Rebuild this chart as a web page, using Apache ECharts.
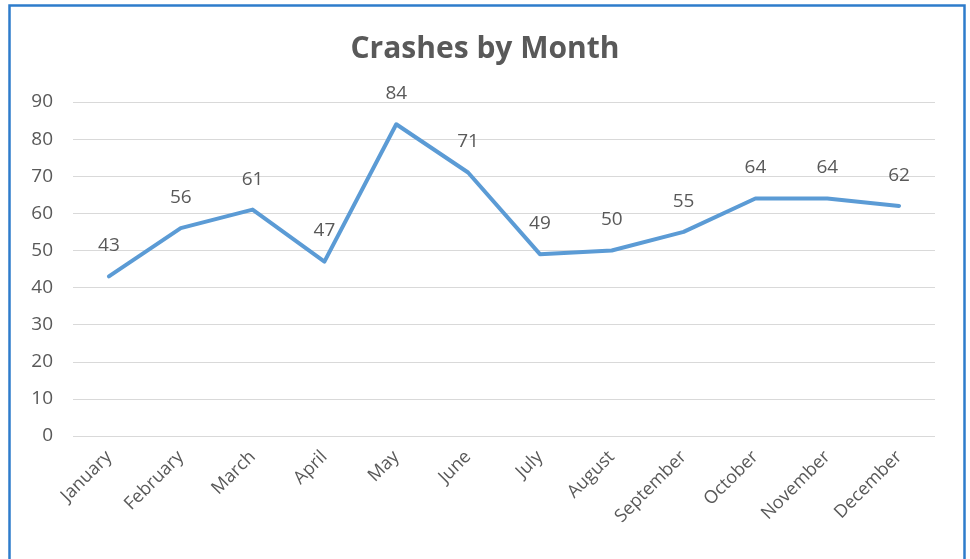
<!DOCTYPE html>
<html>
<head>
<meta charset="utf-8">
<style>
  html, body { margin: 0; padding: 0; background: #ffffff; }
  #chart { width: 970px; height: 559px; }
</style>
<script src="https://cdn.jsdelivr.net/npm/echarts@6/dist/echarts.min.js"></script>
</head>
<body>
<div id="chart"></div>
<script>
const months = ['January','February','March','April','May','June','July','August','September','October','November','December'];
const crashes = [43, 56, 61, 47, 84, 71, 49, 50, 55, 64, 64, 62];
const yTicks = [0, 10, 20, 30, 40, 50, 60, 70, 80, 90];

const chart = echarts.init(document.getElementById('chart'), null, { renderer: 'canvas' });
const textColor = '#595959';
const font = '"Open Sans", "Noto Sans", sans-serif';

chart.setOption({
  animation: false,
  backgroundColor: '#ffffff',
  title: {
    text: 'Crashes by Month',
    left: 'center',
    top: 29,
    textStyle: { color: textColor, fontSize: 30, fontWeight: 'bold', fontFamily: font }
  },
  graphic: [{
    type: 'rect',
    shape: { x: 9.5, y: 5.5, width: 955, height: 600 },
    style: { fill: 'none', stroke: '#2E7CCB', lineWidth: 2.5 },
    silent: true
  }],
  grid: { left: 73, right: 35, top: 102, bottom: 123, containLabel: false },
  xAxis: {
    type: 'category',
    data: months,
    boundaryGap: true,
    axisLine: { show: false },
    axisTick: { show: false },
    axisLabel: { rotate: 45, color: textColor, fontSize: 18, fontFamily: font, margin: 18 }
  },
  yAxis: {
    type: 'value',
    min: yTicks[0],
    max: yTicks[yTicks.length - 1],
    interval: 10,
    axisLine: { show: false },
    axisTick: { show: false },
    splitLine: { lineStyle: { color: '#d9d9d9', width: 1 } },
    axisLabel: { color: textColor, fontSize: 19, fontFamily: font, margin: 20 }
  },
  series: [{
    type: 'line',
    data: crashes,
    symbol: 'circle',
    symbolSize: 2,
    showSymbol: true,
    itemStyle: { color: 'rgba(91,155,213,0)', borderWidth: 0 },
    lineStyle: { color: '#5B9BD5', width: 4, cap: 'round', join: 'round' },
    label: {
      show: true,
      position: 'top',
      distance: 20,
      color: textColor,
      opacity: 1,
      fontSize: 19,
      fontFamily: font
    }
  }]
});
</script>
</body>
</html>
